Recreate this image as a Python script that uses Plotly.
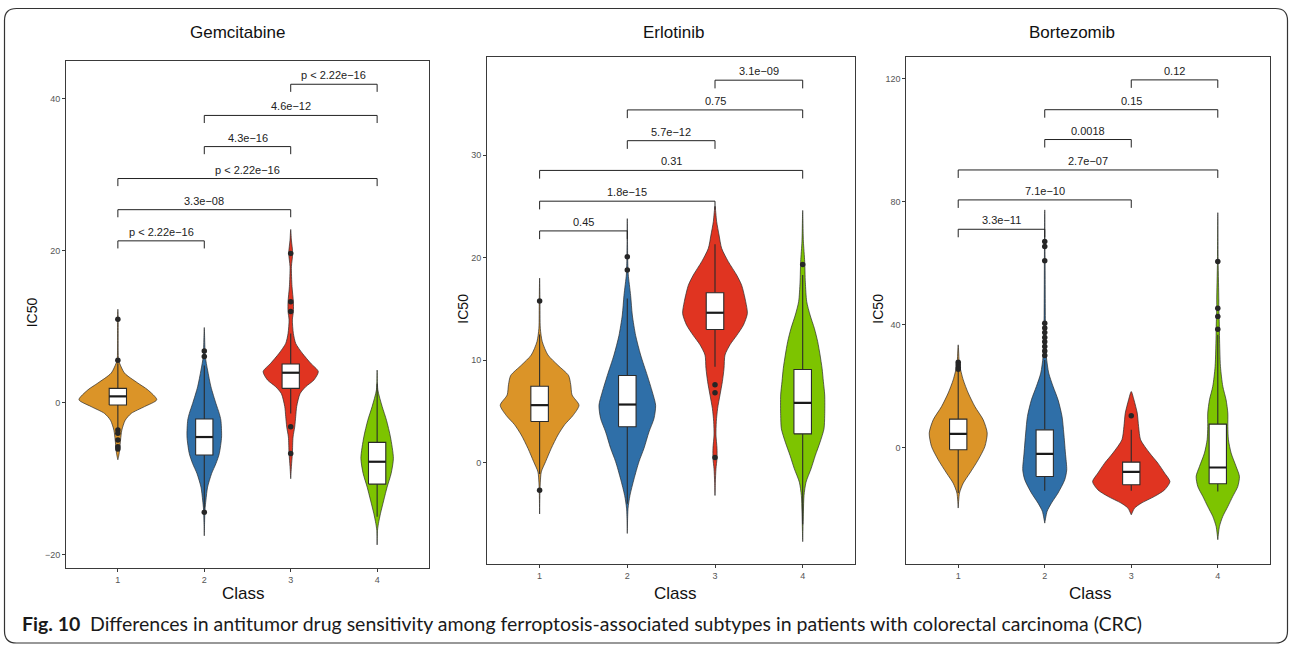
import plotly.graph_objects as go

W, H = 1290, 645

CLASSES = [1, 2, 3, 4]
COLORS = ["#DB9428", "#2F6FA8", "#E03421", "#7DC400"]
DRUGS = ["Gemcitabine", "Erlotinib", "Bortezomib"]

# ---- Gemcitabine -------------------------------------------------------
# violin outlines: IC50 levels (top to bottom) and density half-widths (class units)
GEM_VIOLIN_Y = [
    [12.3, 11.0, 5.6, 5.2, 3.9, 2.6, 1.7, 0.4, -0.5, -1.4, -2.3, -3.6, -4.9, -6.7, -7.5],
    [9.9, 6.1, 4.3, 2.1, -0.1, -1.4, -2.3, -4.5, -6.7, -8.0, -9.3, -11.1, -12.8, -14.1, -17.5],
    [22.8, 21.4, 19.65, 17.9, 15.3, 13.3, 12.0, 10.9, 9.1, 7.8, 6.5, 5.2, 4.1, 3.0, 2.1, 1.2,
     -0.5, -1.8, -3.2, -4.5, -6.7, -8.4, -10.0],
    [4.3, 1.7, -0.5, -2.3, -4.5, -7.3, -9.3, -11.1, -12.8, -14.6, -15.9, -16.8, -18.7],
]
GEM_VIOLIN_W = [
    [0, 0.004, 0.008, 0.02, 0.077, 0.23, 0.346, 0.45, 0.31, 0.155, 0.085, 0.046, 0.031, 0.015, 0],
    [0, 0.012, 0.038, 0.077, 0.135, 0.173, 0.192, 0.2, 0.173, 0.135, 0.085, 0.038, 0.019, 0.008, 0],
    [0, 0.008, 0.023, 0.008, 0.015, 0.031, 0.031, 0.019, 0.031, 0.058, 0.135, 0.231, 0.319, 0.269,
     0.173, 0.108, 0.069, 0.058, 0.046, 0.027, 0.019, 0.008, 0],
    [0, 0.008, 0.058, 0.108, 0.154, 0.188, 0.162, 0.115, 0.077, 0.038, 0.015, 0.004, 0],
]
GEM_Q1 = [-0.30, -6.88, 1.89, -10.70]
GEM_MEDIAN = [0.84, -4.51, 3.95, -7.76]
GEM_Q3 = [1.89, -2.14, 5.09, -5.21]
GEM_LOWER = [-3.4, -13.9, -1.4, -15.0]
GEM_UPPER = [5.2, 4.9, 9.1, 2.5]
GEM_OUTLIERS = [
    [11.0, 5.6, -3.6, -4.0, -4.9, -5.8, -6.1],
    [6.8, 6.1, -14.4],
    [19.65, 13.3, 12.0, -3.15, -6.66],
    [],
]
GEM_PAIRS = [(1, 2), (1, 3), (1, 4), (2, 3), (2, 4), (3, 4)]
GEM_BRACKET_Y = [21.3, 25.4, 29.5, 33.7, 37.8, 41.9]
GEM_PVALUES = ["p < 2.22e\u221216", "3.3e\u221208", "p < 2.22e\u221216",
               "4.3e\u221216", "4.6e\u221212", "p < 2.22e\u221216"]

# ---- Erlotinib ---------------------------------------------------------
ERL_VIOLIN_Y = [
    [18.0, 15.8, 13.1, 11.8, 10.5, 9.5, 8.5, 7.6, 6.6, 5.6, 4.6, 3.7, 2.7, 1.4, 0.1, -0.9, -1.9,
     -2.7, -5.0],
    [23.8, 20.1, 18.8, 18.3, 16.3, 14.4, 12.4, 10.5, 8.5, 6.9, 5.6, 4.3, 3.0, 1.4, 0.1, -1.6,
     -3.2, -4.5, -6.9],
    [25.0, 23.5, 22.2, 20.9, 19.6, 18.3, 17.3, 15.7, 14.55, 13.4, 12.4, 11.5, 10.5, 9.2, 7.9,
     6.6, 5.3, 4.0, 2.7, 1.4, 0.4, -0.6, -1.9, -3.2],
    [24.6, 21.6, 19.6, 17.6, 15.7, 14.4, 13.1, 11.8, 10.5, 9.2, 7.9, 6.6, 4.6, 3.3, 2.0, 0.7,
     -0.6, -1.9, -3.2, -4.8, -7.7],
]
ERL_VIOLIN_W = [
    [0, 0.004, 0.008, 0.03, 0.095, 0.209, 0.33, 0.355, 0.37, 0.449, 0.38, 0.285, 0.209, 0.133,
     0.068, 0.019, 0.008, 0.004, 0],
    [0, 0.004, 0.008, 0.011, 0.038, 0.057, 0.095, 0.152, 0.228, 0.285, 0.323, 0.304, 0.247,
     0.19, 0.133, 0.076, 0.03, 0.008, 0],
    [0, 0.019, 0.046, 0.076, 0.152, 0.247, 0.304, 0.35, 0.369, 0.323, 0.247, 0.171, 0.114, 0.103,
     0.084, 0.057, 0.03, 0.015, 0.011, 0.023, 0.023, 0.011, 0.004, 0],
    [0, 0.008, 0.023, 0.03, 0.046, 0.084, 0.133, 0.171, 0.198, 0.221, 0.236, 0.251, 0.251, 0.243,
     0.198, 0.144, 0.095, 0.038, 0.015, 0.008, 0],
]
ERL_Q1 = [4.02, 3.50, 12.99, 2.81]
ERL_MEDIAN = [5.61, 5.67, 14.62, 5.84]
ERL_Q3 = [7.46, 8.50, 16.57, 9.09]
ERL_LOWER = [-1.1, -4.0, 9.35, -6.0]
ERL_UPPER = [12.5, 16.0, 21.3, 18.3]
ERL_OUTLIERS = [
    [15.76, -2.68],
    [20.08, 18.78],
    [7.60, 6.81, 0.50],
    [19.33],
]
ERL_PAIRS = [(1, 2), (1, 3), (1, 4), (2, 3), (2, 4), (3, 4)]
ERL_BRACKET_Y = [22.6, 25.5, 28.5, 31.4, 34.4, 37.3]
ERL_PVALUES = ["0.45", "1.8e\u221215", "0.31", "5.7e\u221212", "0.75", "3.1e\u221209"]

# ---- Bortezomib --------------------------------------------------------
BOR_VIOLIN_Y = [
    [33.5, 27.5, 26.4, 22.1, 17.8, 13.4, 9.1, 4.8, 0.4, -3.9, -8.2, -11.5, -14.7, -19.6],
    [77.4, 60.9, 40.5, 37.3, 29.7, 24.3, 20.0, 15.6, 10.2, 4.8, -1.7, -7.2, -10.4, -14.7, -18.0,
     -20.7, -24.5],
    [18.3, 15.6, 11.3, 6.9, 2.6, -1.7, -5.0, -8.2, -11.0, -13.7, -15.8, -18.0, -19.6, -21.8],
    [76.5, 60.6, 48.1, 45.4, 42.7, 38.6, 37.3, 26.4, 20.0, 15.6, 11.3, 6.9, 2.6, -1.7, -6.1,
     -9.3, -12.6, -15.8, -19.1, -22.3, -25.6, -29.9],
]
BOR_VIOLIN_W = [
    [0, 0.012, 0.019, 0.058, 0.116, 0.193, 0.289, 0.335, 0.308, 0.231, 0.135, 0.058, 0.015, 0],
    [0, 0.004, 0.008, 0.012, 0.019, 0.046, 0.096, 0.154, 0.2, 0.22, 0.239, 0.254, 0.231, 0.154,
     0.077, 0.027, 0],
    [0, 0.031, 0.069, 0.085, 0.108, 0.212, 0.308, 0.385, 0.447, 0.385, 0.27, 0.116, 0.039, 0],
    [0, 0.004, 0.012, 0.012, 0.015, 0.019, 0.019, 0.031, 0.058, 0.096, 0.116, 0.116, 0.123,
     0.154, 0.212, 0.25, 0.231, 0.173, 0.116, 0.058, 0.019, 0],
]
BOR_Q1 = [-0.65, -9.32, -12.03, -11.7]
BOR_MEDIAN = [4.55, -1.95, -7.8, -6.4]
BOR_Q3 = [9.32, 5.85, -4.66, 7.7]
BOR_LOWER = [-14.7, -14.0, -14.0, -14.2]
BOR_UPPER = [24.9, 28.6, 5.85, 36.8]
BOR_OUTLIERS = [
    [27.8, 27.0, 26.2, 25.6],
    [67.1, 65.5, 60.9, 40.5, 39.0, 37.5, 35.9, 34.5, 33.0, 31.5, 30.0],
    [10.4],
    [60.6, 45.4, 42.7, 38.6],
]
BOR_PAIRS = [(1, 2), (1, 3), (1, 4), (2, 3), (2, 4), (3, 4)]
BOR_BRACKET_Y = [71.1, 80.65, 90.4, 100.3, 110.0, 119.7]
BOR_PVALUES = ["3.3e\u221211", "7.1e\u221210", "2.7e\u221207", "0.0018", "0.15", "0.12"]

Y_RANGES = [[-21.7, 44.96], [-9.91, 39.56], [-37.9, 127.15]]
Y_TICKS = [[-20, 0, 20, 40], [0, 10, 20, 30], [0, 40, 80, 120]]
BRACKET_TICK = [1.0, 0.8, 2.6]

# panel frames in pixels: left, right, top, bottom
PANELS_PX = [(66, 429, 61, 567.7), (487, 855.3, 57, 564.3), (906.3, 1269.7, 57, 564.3)]
TITLE_X_PX = [237, 674, 1072]
CLASS_X_PX = [243, 675, 1090]
IC50_X_PX = [32, 463, 878]

BOX_WIDTH = 0.2
TEXT_FONT = "Liberation Sans, Arial, sans-serif"
INK = "#222222"
BOX_INK = "#2b2b2b"

panels = [
    (GEM_VIOLIN_Y, GEM_VIOLIN_W, GEM_Q1, GEM_MEDIAN, GEM_Q3, GEM_LOWER, GEM_UPPER,
     GEM_OUTLIERS, GEM_PAIRS, GEM_BRACKET_Y, GEM_PVALUES),
    (ERL_VIOLIN_Y, ERL_VIOLIN_W, ERL_Q1, ERL_MEDIAN, ERL_Q3, ERL_LOWER, ERL_UPPER,
     ERL_OUTLIERS, ERL_PAIRS, ERL_BRACKET_Y, ERL_PVALUES),
    (BOR_VIOLIN_Y, BOR_VIOLIN_W, BOR_Q1, BOR_MEDIAN, BOR_Q3, BOR_LOWER, BOR_UPPER,
     BOR_OUTLIERS, BOR_PAIRS, BOR_BRACKET_Y, BOR_PVALUES),
]


def px_x(x):
    return x / W


def px_y(y):
    return 1 - y / H


fig = go.Figure()
annotations = []

for p, (vy, vw, q1, med, q3, lo, up, outl, pairs, by, pv) in enumerate(panels):
    xa = "x" if p == 0 else f"x{p + 1}"
    ya = "y" if p == 0 else f"y{p + 1}"
    ax_kw = dict(xaxis=xa, yaxis=ya, showlegend=False, hoverinfo="skip")

    for i, k in enumerate(CLASSES):
        # violin body
        ys, ws = vy[i], vw[i]
        xs = [k + w for w in ws] + [k - w for w in reversed(ws)]
        yy = list(ys) + list(reversed(ys))
        fig.add_trace(go.Scatter(
            x=xs, y=yy, mode="lines", fill="toself", fillcolor=COLORS[i],
            line=dict(color="#2b2b2b", width=0.7, shape="spline", smoothing=0.7), **ax_kw))

        # whiskers
        fig.add_trace(go.Scatter(
            x=[k, k, None, k, k], y=[q3[i], up[i], None, lo[i], q1[i]], mode="lines",
            line=dict(color=BOX_INK, width=1.1), **ax_kw))

        # box (interquartile range)
        half = BOX_WIDTH / 2
        fig.add_trace(go.Scatter(
            x=[k - half, k + half, k + half, k - half, k - half],
            y=[q1[i], q1[i], q3[i], q3[i], q1[i]], mode="lines", fill="toself",
            fillcolor="white", line=dict(color=BOX_INK, width=1.1), **ax_kw))

        # median
        fig.add_trace(go.Scatter(
            x=[k - half, k + half], y=[med[i], med[i]], mode="lines",
            line=dict(color="#1a1a1a", width=2.2), **ax_kw))

        if outl[i]:
            fig.add_trace(go.Scatter(
                x=[k] * len(outl[i]), y=outl[i], mode="markers",
                marker=dict(color="#262626", size=5.5), **ax_kw))

    tick = BRACKET_TICK[p]
    for (a, b), h, label in zip(pairs, by, pv):
        fig.add_trace(go.Scatter(
            x=[a, a, b, b], y=[h - tick, h, h, h - tick], mode="lines",
            line=dict(color=INK, width=1), **ax_kw))
        annotations.append(dict(
            x=(a + b) / 2, y=h, xref=xa, yref=ya, text=label, showarrow=False,
            yanchor="bottom", yshift=1, font=dict(family=TEXT_FONT, size=11, color=INK)))

    left, right, top, bottom = PANELS_PX[p]
    axis_common = dict(showgrid=False, zeroline=False, showline=True, mirror=True,
                       linecolor="#3a3a3a", linewidth=1, ticks="outside", ticklen=3,
                       tickcolor="#3a3a3a", tickwidth=1,
                       tickfont=dict(family=TEXT_FONT, size=9, color="#555555"))
    fig.update_layout(**{
        ("xaxis" if p == 0 else f"xaxis{p + 1}"): dict(
            domain=[px_x(left), px_x(right)], range=[0.4, 4.6], tickvals=CLASSES,
            ticktext=[str(c) for c in CLASSES], anchor=ya, **axis_common),
        ("yaxis" if p == 0 else f"yaxis{p + 1}"): dict(
            domain=[px_y(bottom), px_y(top)], range=Y_RANGES[p], tickvals=Y_TICKS[p],
            anchor=xa, **axis_common),
    })

    annotations.append(dict(
        x=px_x(TITLE_X_PX[p]), y=px_y(33), xref="paper", yref="paper", text=DRUGS[p],
        showarrow=False, xanchor="center", yanchor="middle",
        font=dict(family=TEXT_FONT, size=17, color="#111111")))
    annotations.append(dict(
        x=px_x(CLASS_X_PX[p]), y=px_y(593), xref="paper", yref="paper", text="Class",
        showarrow=False, xanchor="center", yanchor="middle",
        font=dict(family=TEXT_FONT, size=17, color="#111111")))
    annotations.append(dict(
        x=px_x(IC50_X_PX[p]), y=px_y((top + bottom) / 2 - 2), xref="paper", yref="paper",
        text="IC50", textangle=-90, showarrow=False, xanchor="center", yanchor="middle",
        font=dict(family=TEXT_FONT, size=14, color="#111111")))

annotations.append(dict(
    x=px_x(20), y=px_y(623), xref="paper", yref="paper", xanchor="left", yanchor="middle",
    showarrow=False,
    text="<b>Fig. 10</b>\u2002Differences in antitumor drug sensitivity among "
         "ferroptosis-associated subtypes in patients with colorectal carcinoma (CRC)",
    font=dict(family="Lato, Open Sans, sans-serif", size=19.5, color="#1a1a1a")))

# rounded outer frame
x0, y0, x1, y1, r = 4.5, 8.5, 1287.5, 643, 12
pts = [
    ("M", [(x0 + r, y0)]), ("L", [(x1 - r, y0)]), ("Q", [(x1, y0), (x1, y0 + r)]),
    ("L", [(x1, y1 - r)]), ("Q", [(x1, y1), (x1 - r, y1)]), ("L", [(x0 + r, y1)]),
    ("Q", [(x0, y1), (x0, y1 - r)]), ("L", [(x0, y0 + r)]), ("Q", [(x0, y0), (x0 + r, y0)]),
]
path = " ".join(
    cmd + " " + " ".join(f"{px_x(a):.5f},{px_y(b):.5f}" for a, b in coords)
    for cmd, coords in pts) + " Z"

fig.update_layout(
    width=W, height=H, margin=dict(l=0, r=0, t=0, b=0),
    paper_bgcolor="white", plot_bgcolor="white",
    annotations=annotations,
    shapes=[dict(type="path", path=path, xref="paper", yref="paper",
                 line=dict(color="#333333", width=1.2), layer="below")],
)

fig.write_html("out.html")
